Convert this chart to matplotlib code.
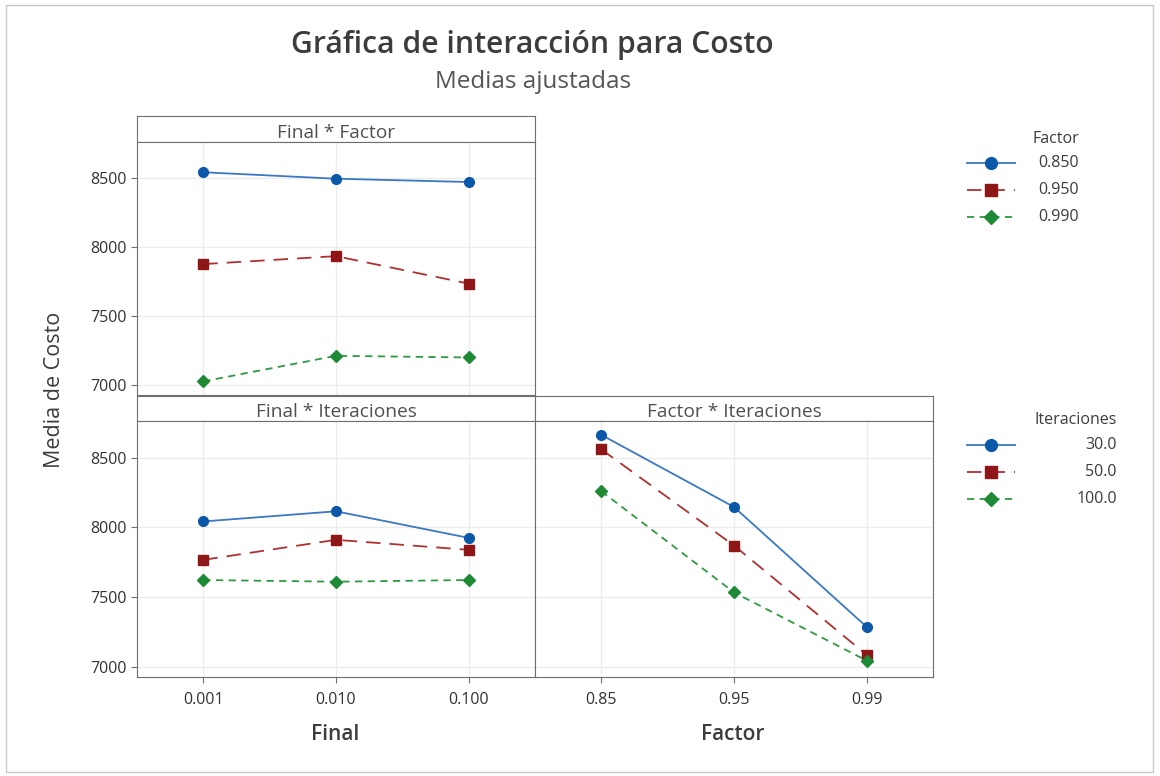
import numpy as np
import matplotlib.pyplot as plt
from matplotlib.patches import Rectangle
from matplotlib.lines import Line2D

plt.rcParams['font.family'] = ['Open Sans', 'DejaVu Sans']

# category levels
final_levels = ['0.001', '0.010', '0.100']
factor_levels = ['0.85', '0.95', '0.99']
factor_legend = ['0.850', '0.950', '0.990']
iter_legend = ['30.0', '50.0', '100.0']

# Final * Factor (rows: factor 0.85, 0.95, 0.99)
final_factor = [[8545, 8498, 8474],
                [7877, 7935, 7735],
                [7024, 7210, 7198]]
# Final * Iteraciones (rows: 30, 50, 100)
final_iter = [[8043, 8116, 7925],
              [7767, 7911, 7839],
              [7622, 7610, 7622]]
# Factor * Iteraciones (rows: 30, 50, 100)
factor_iter = [[8665, 8147, 7285],
               [8561, 7870, 7084],
               [8260, 7533, 7043]]

colors = ['#0b57a8', '#8e1616', '#1f8a35']
line_colors = ['#3a78c4', '#b03030', '#2e9a44']
markers = ['o', 's', 'D']
styles = ['-', (0, (8, 5)), (0, (4, 3))]
msizes = [7, 7, 6]

W, H = 1160, 776
grey = '#6e6e6e'
text_grey = '#505050'
dark = '#3c3c3c'

fig = plt.figure(figsize=(W / 100, H / 100), dpi=100)
fig.patches.append(Rectangle((6 / W, 4 / H), 1147 / W, 767 / H, transform=fig.transFigure,
                             fill=False, edgecolor='#c8c8c8', lw=1))


def box(x0, y0, x1, y1):
    return [x0 / W, 1 - y1 / H, (x1 - x0) / W, (y1 - y0) / H]


def panel(ax_rect, head_rect, title, series, xticks, show_y, show_x):
    hax = fig.add_axes(head_rect)
    hax.set_xticks([])
    hax.set_yticks([])
    for s in hax.spines.values():
        s.set_color(grey)
    hax.text(0.5, 0.36, title, ha='center', va='center', fontsize=13.8, color=text_grey)

    ax = fig.add_axes(ax_rect)
    x = np.arange(len(xticks))
    for i, vals in enumerate(series):
        ax.plot(x, vals, color=line_colors[i], ls=styles[i], lw=1.3, zorder=3)
        ax.plot(x, vals, ls='none', marker=markers[i], ms=msizes[i], color=colors[i], zorder=4)
    ax.set_xlim(-0.5, 2.5)
    ax.set_ylim(6925, 8765)
    ax.set_yticks([7000, 7500, 8000, 8500])
    ax.set_xticks(x)
    ax.grid(True, color='#ececec', lw=1)
    ax.set_axisbelow(True)
    for s in ax.spines.values():
        s.set_color(grey)
    ax.tick_params(colors=grey, labelcolor='#333333', labelsize=11.5, length=4)
    if show_x:
        ax.set_xticklabels(xticks)
        ax.tick_params(axis='x', pad=7)
    else:
        ax.tick_params(axis='x', length=0, labelbottom=False)
    if not show_y:
        ax.tick_params(axis='y', length=0, labelleft=False)
    return ax


ax1 = panel(box(137, 142, 535, 395), box(137, 116, 535, 142), 'Final * Factor',
            final_factor, final_levels, True, False)
ax2 = panel(box(137, 421, 535, 677), box(137, 396, 535, 421), 'Final * Iteraciones',
            final_iter, final_levels, True, True)
ax3 = panel(box(535, 421, 933, 677), box(535, 396, 933, 421), 'Factor * Iteraciones',
            factor_iter, factor_levels, False, True)

fig.text(532 / W, 1 - 45 / H, 'Gráfica de interacción para Costo', ha='center', va='center',
         fontsize=21.7, fontweight='semibold', color=dark)
fig.text(533 / W, 1 - 82 / H, 'Medias ajustadas', ha='center', va='center',
         fontsize=17.5, color='#555555')
fig.text(55 / W, 1 - 390 / H, 'Media de Costo', ha='center', va='center', rotation=90,
         fontsize=15.5, color=dark)
fig.text(335 / W, 1 - 735 / H, 'Final', ha='center', va='center', fontsize=15,
         fontweight='semibold', color=dark)
fig.text(733 / W, 1 - 735 / H, 'Factor', ha='center', va='center', fontsize=15,
         fontweight='semibold', color=dark)


def legend(title, labels, title_y, row_y, right_x):
    fig.text(right_x / W, 1 - title_y / H, title, ha='right', va='center',
             fontsize=11.5, color=dark)
    for i, lab in enumerate(labels):
        y = 1 - row_y[i] / H
        fig.add_artist(Line2D([967 / W, 1015 / W], [y, y], transform=fig.transFigure,
                              color=line_colors[i], ls=styles[i], lw=1.3))
        fig.add_artist(Line2D([991 / W], [y], transform=fig.transFigure, ls='none',
                              marker=markers[i], ms=msizes[i] + 1.5, color=colors[i]))
        fig.text(right_x / W, y, lab, ha='right', va='center', fontsize=11.5, color=dark)


legend('Factor', factor_legend, 139, [163, 190, 217], 1079)
legend('Iteraciones', iter_legend, 420, [445, 472, 499], 1117)

fig.savefig('out.png', dpi=100)
